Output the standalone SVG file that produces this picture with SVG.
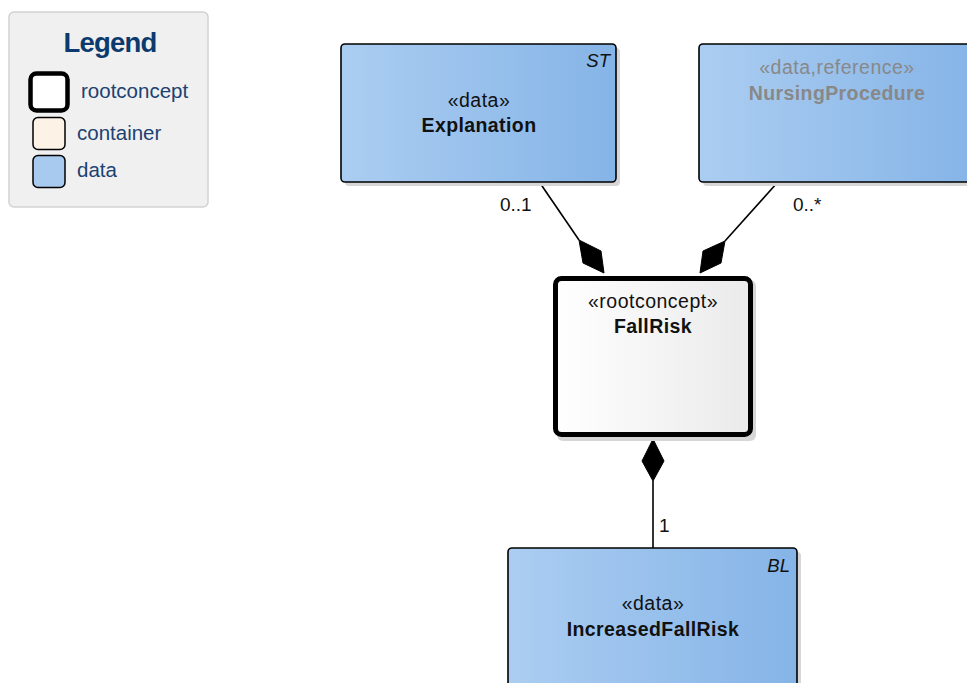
<svg xmlns="http://www.w3.org/2000/svg" width="967" height="683" viewBox="0 0 967 683">
  <defs>
    <linearGradient id="gData" x1="0" y1="0" x2="1" y2="0">
      <stop offset="0" stop-color="#abcdf1"/>
      <stop offset="1" stop-color="#85b4e7"/>
    </linearGradient>
    <linearGradient id="gRoot" x1="0" y1="0" x2="1" y2="0">
      <stop offset="0" stop-color="#ffffff"/>
      <stop offset="1" stop-color="#eaeaea"/>
    </linearGradient>
    <style>
      text { font-family: "Liberation Sans", Arial, sans-serif; }
      .shadow { fill: #d6d6d6; }
      .data { fill: url(#gData); stroke: #000; stroke-width: 1.6; }
      .root { fill: url(#gRoot); stroke: #000; stroke-width: 5; }
      .st { font-size: 19.5px; fill: #111; text-anchor: middle; letter-spacing: 0.5px; }
      .nm { font-size: 19.5px; font-weight: bold; fill: #111; text-anchor: middle; letter-spacing: 0.4px; }
      .ref { fill: #888888; }
      .tag { font-size: 18.5px; font-style: italic; fill: #111; text-anchor: end; }
      .lbl { font-size: 19px; fill: #111; }
      .leg { font-size: 20.5px; fill: #1b4272; }
      .conn { stroke: #000; stroke-width: 1.6; fill: none; }
      .dia { fill: #000; stroke: #000; stroke-width: 1; stroke-linejoin: miter; }
    </style>
  </defs>

  <g id="legend">
    <rect x="9" y="12" width="199" height="195" rx="5" fill="#f0f0f0" stroke="#d2d2d2" stroke-width="1.5"/>
    <text x="110" y="52" text-anchor="middle" font-size="27.5" font-weight="bold" fill="#0d3a6e" letter-spacing="-0.8">Legend</text>
    <rect x="30.5" y="73.5" width="37" height="37" rx="6" fill="#ffffff" stroke="#000" stroke-width="4.5"/>
    <text class="leg" x="81" y="98">rootconcept</text>
    <rect x="33" y="117.5" width="32" height="32" rx="5" fill="#fcf3e6" stroke="#000" stroke-width="1.5"/>
    <text class="leg" x="77" y="139.5">container</text>
    <rect x="33" y="155.5" width="32" height="32" rx="5" fill="#a8caef" stroke="#000" stroke-width="1.5"/>
    <text class="leg" x="77" y="177">data</text>
  </g>

  <g id="connectors">
    <path class="conn" d="M540,183 L579,240"/>
    <polygon class="dia" points="579,240 601,251 604,273 583,263"/>
    <path class="conn" d="M777,183 L725,241"/>
    <polygon class="dia" points="725,241 703,251 700,273 721,263"/>
    <path class="conn" d="M653,481 L653,548"/>
    <polygon class="dia" points="653,439 664,461 653,481 642,461"/>
    <text class="lbl" x="500" y="211">0..1</text>
    <text class="lbl" x="793" y="211">0..*</text>
    <text class="lbl" x="659" y="532">1</text>
  </g>

  <g id="node-explanation">
    <rect class="shadow" x="345" y="48" width="275" height="138" rx="4"/>
    <rect class="data" x="341" y="44" width="275" height="138" rx="4"/>
    <text class="tag" x="610" y="67">ST</text>
    <text class="st" x="479" y="107">«data»</text>
    <text class="nm" x="479" y="132">Explanation</text>
  </g>

  <g id="node-nursingprocedure">
    <rect class="shadow" x="703" y="48" width="276" height="138" rx="4"/>
    <rect class="data" x="699" y="44" width="276" height="138" rx="4"/>
    <text class="st ref" x="837" y="74">«data,reference»</text>
    <text class="nm ref" x="837" y="100">NursingProcedure</text>
  </g>

  <g id="node-fallrisk">
    <rect class="shadow" x="557" y="280" width="199" height="161" rx="6"/>
    <rect class="root" x="555.5" y="278.5" width="195" height="156" rx="6"/>
    <text class="st" x="653" y="308">«rootconcept»</text>
    <text class="nm" x="653" y="333">FallRisk</text>
  </g>

  <g id="node-increasedfallrisk">
    <rect class="shadow" x="512" y="552" width="289" height="140" rx="4"/>
    <rect class="data" x="508" y="548" width="289" height="140" rx="4"/>
    <text class="tag" x="790" y="572">BL</text>
    <text class="st" x="653" y="610">«data»</text>
    <text class="nm" x="653" y="636">IncreasedFallRisk</text>
  </g>
</svg>
